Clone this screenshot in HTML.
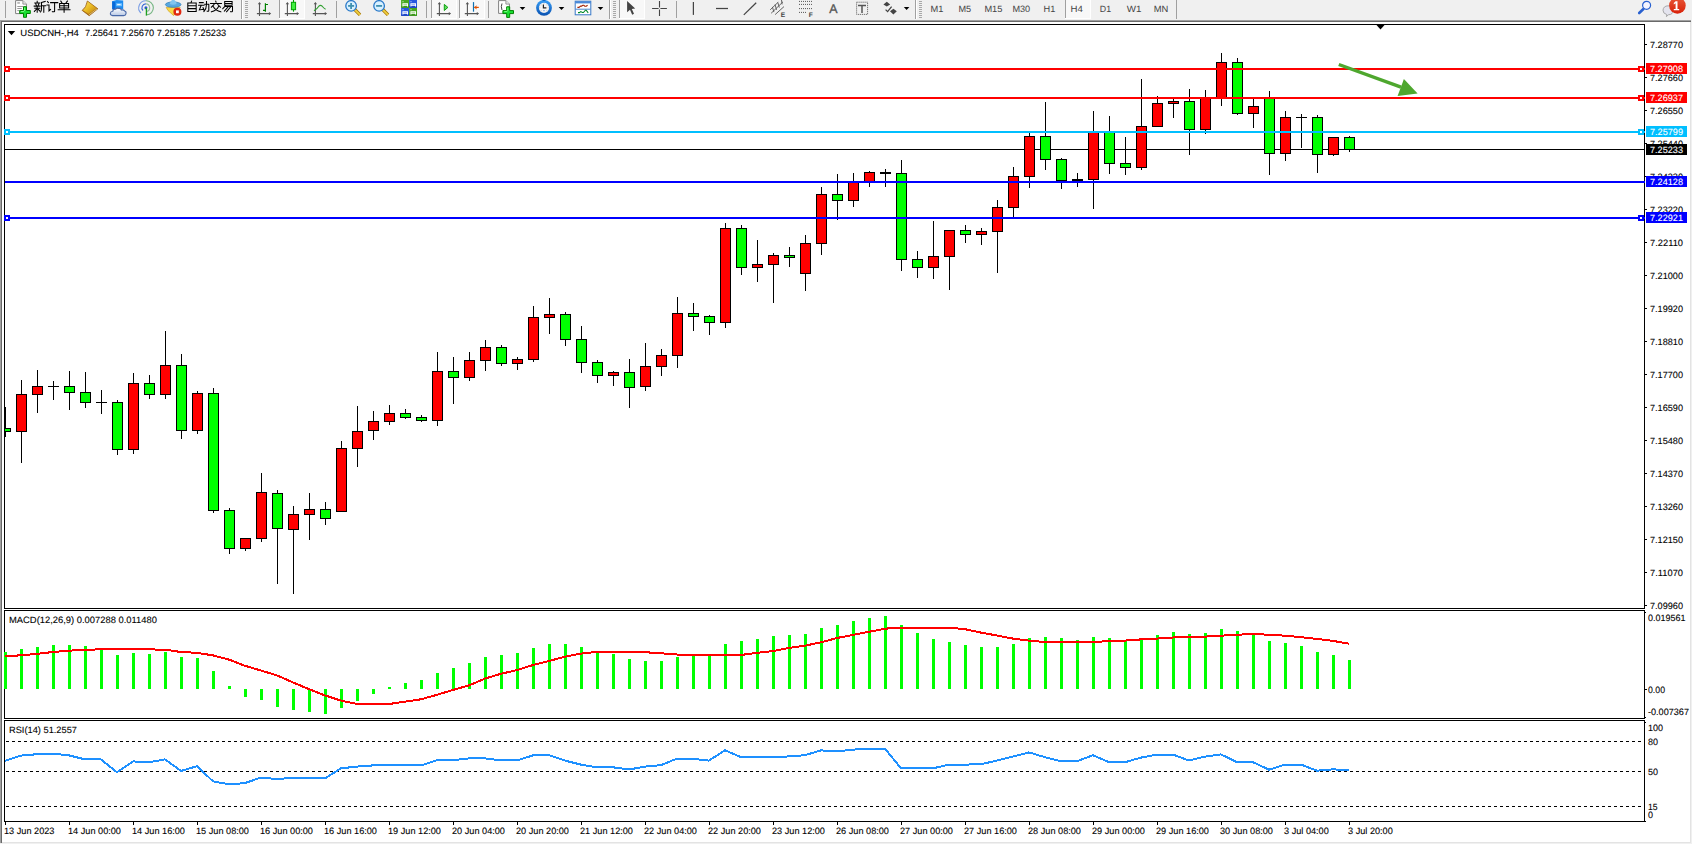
<!DOCTYPE html>
<html><head><meta charset="utf-8"><title>USDCNH H4</title>
<style>
html,body{margin:0;padding:0;background:#f0f0f0;overflow:hidden}
svg{display:block;font-family:"Liberation Sans",sans-serif}
</style></head><body>
<svg width="1692" height="844" viewBox="0 0 1692 844">
<defs><clipPath id="cm"><rect x="5" y="25" width="1639" height="583"/></clipPath></defs>
<g shape-rendering="crispEdges">
<rect x="0" y="0" width="1692" height="844" fill="#f0f0f0"/>
<rect x="0" y="20" width="1691" height="823" fill="#a0a0a0"/>
<rect x="1" y="21" width="1690" height="822" fill="#696969"/>
<rect x="2" y="22" width="1689" height="821" fill="#e3e3e3"/>
<rect x="2" y="22" width="1688" height="820" fill="#ffffff"/>
<rect x="4" y="24" width="1641" height="1" fill="#000"/>
<rect x="4" y="608" width="1641" height="1" fill="#000"/>
<rect x="4" y="24" width="1" height="585" fill="#000"/>
<rect x="1644" y="24" width="1" height="585" fill="#000"/>
<rect x="4" y="610" width="1641" height="1" fill="#000"/>
<rect x="4" y="718" width="1641" height="1" fill="#000"/>
<rect x="4" y="610" width="1" height="109" fill="#000"/>
<rect x="1644" y="610" width="1" height="109" fill="#000"/>
<rect x="4" y="720" width="1641" height="1" fill="#000"/>
<rect x="4" y="821" width="1641" height="1" fill="#000"/>
<rect x="4" y="720" width="1" height="102" fill="#000"/>
<rect x="1644" y="720" width="1" height="102" fill="#000"/>
<g clip-path="url(#cm)">
<rect x="5" y="149" width="1639" height="1" fill="#000"/>
<rect x="5" y="407" width="1" height="30" fill="#000"/>
<rect x="0" y="428" width="11" height="4" fill="#000"/>
<rect x="1" y="429" width="9" height="2" fill="#00ff00"/>
<rect x="21" y="380" width="1" height="83" fill="#000"/>
<rect x="16" y="394" width="11" height="38" fill="#000"/>
<rect x="17" y="395" width="9" height="36" fill="#ff0000"/>
<rect x="37" y="370" width="1" height="43" fill="#000"/>
<rect x="32" y="386" width="11" height="9" fill="#000"/>
<rect x="33" y="387" width="9" height="7" fill="#ff0000"/>
<rect x="53" y="381" width="1" height="19" fill="#000"/>
<rect x="48" y="386" width="11" height="1" fill="#000"/>
<rect x="69" y="371" width="1" height="39" fill="#000"/>
<rect x="64" y="386" width="11" height="7" fill="#000"/>
<rect x="65" y="387" width="9" height="5" fill="#00ff00"/>
<rect x="85" y="372" width="1" height="36" fill="#000"/>
<rect x="80" y="392" width="11" height="11" fill="#000"/>
<rect x="81" y="393" width="9" height="9" fill="#00ff00"/>
<rect x="101" y="390" width="1" height="24" fill="#000"/>
<rect x="96" y="402" width="11" height="1" fill="#000"/>
<rect x="117" y="400" width="1" height="55" fill="#000"/>
<rect x="112" y="402" width="11" height="48" fill="#000"/>
<rect x="113" y="403" width="9" height="46" fill="#00ff00"/>
<rect x="133" y="373" width="1" height="81" fill="#000"/>
<rect x="128" y="383" width="11" height="67" fill="#000"/>
<rect x="129" y="384" width="9" height="65" fill="#ff0000"/>
<rect x="149" y="375" width="1" height="24" fill="#000"/>
<rect x="144" y="383" width="11" height="12" fill="#000"/>
<rect x="145" y="384" width="9" height="10" fill="#00ff00"/>
<rect x="165" y="331" width="1" height="68" fill="#000"/>
<rect x="160" y="365" width="11" height="30" fill="#000"/>
<rect x="161" y="366" width="9" height="28" fill="#ff0000"/>
<rect x="181" y="354" width="1" height="85" fill="#000"/>
<rect x="176" y="365" width="11" height="66" fill="#000"/>
<rect x="177" y="366" width="9" height="64" fill="#00ff00"/>
<rect x="197" y="391" width="1" height="43" fill="#000"/>
<rect x="192" y="393" width="11" height="38" fill="#000"/>
<rect x="193" y="394" width="9" height="36" fill="#ff0000"/>
<rect x="213" y="388" width="1" height="125" fill="#000"/>
<rect x="208" y="393" width="11" height="118" fill="#000"/>
<rect x="209" y="394" width="9" height="116" fill="#00ff00"/>
<rect x="229" y="508" width="1" height="46" fill="#000"/>
<rect x="224" y="510" width="11" height="39" fill="#000"/>
<rect x="225" y="511" width="9" height="37" fill="#00ff00"/>
<rect x="245" y="539" width="1" height="12" fill="#000"/>
<rect x="240" y="538" width="11" height="11" fill="#000"/>
<rect x="241" y="539" width="9" height="9" fill="#ff0000"/>
<rect x="261" y="473" width="1" height="69" fill="#000"/>
<rect x="256" y="492" width="11" height="47" fill="#000"/>
<rect x="257" y="493" width="9" height="45" fill="#ff0000"/>
<rect x="277" y="490" width="1" height="94" fill="#000"/>
<rect x="272" y="493" width="11" height="36" fill="#000"/>
<rect x="273" y="494" width="9" height="34" fill="#00ff00"/>
<rect x="293" y="506" width="1" height="88" fill="#000"/>
<rect x="288" y="514" width="11" height="16" fill="#000"/>
<rect x="289" y="515" width="9" height="14" fill="#ff0000"/>
<rect x="309" y="493" width="1" height="47" fill="#000"/>
<rect x="304" y="509" width="11" height="6" fill="#000"/>
<rect x="305" y="510" width="9" height="4" fill="#ff0000"/>
<rect x="325" y="502" width="1" height="23" fill="#000"/>
<rect x="320" y="509" width="11" height="10" fill="#000"/>
<rect x="321" y="510" width="9" height="8" fill="#00ff00"/>
<rect x="341" y="441" width="1" height="71" fill="#000"/>
<rect x="336" y="448" width="11" height="64" fill="#000"/>
<rect x="337" y="449" width="9" height="62" fill="#ff0000"/>
<rect x="357" y="406" width="1" height="61" fill="#000"/>
<rect x="352" y="431" width="11" height="18" fill="#000"/>
<rect x="353" y="432" width="9" height="16" fill="#ff0000"/>
<rect x="373" y="411" width="1" height="29" fill="#000"/>
<rect x="368" y="421" width="11" height="10" fill="#000"/>
<rect x="369" y="422" width="9" height="8" fill="#ff0000"/>
<rect x="389" y="405" width="1" height="20" fill="#000"/>
<rect x="384" y="413" width="11" height="9" fill="#000"/>
<rect x="385" y="414" width="9" height="7" fill="#ff0000"/>
<rect x="405" y="409" width="1" height="10" fill="#000"/>
<rect x="400" y="413" width="11" height="5" fill="#000"/>
<rect x="401" y="414" width="9" height="3" fill="#00ff00"/>
<rect x="421" y="415" width="1" height="7" fill="#000"/>
<rect x="416" y="417" width="11" height="4" fill="#000"/>
<rect x="417" y="418" width="9" height="2" fill="#00ff00"/>
<rect x="437" y="352" width="1" height="74" fill="#000"/>
<rect x="432" y="371" width="11" height="50" fill="#000"/>
<rect x="433" y="372" width="9" height="48" fill="#ff0000"/>
<rect x="453" y="357" width="1" height="47" fill="#000"/>
<rect x="448" y="371" width="11" height="7" fill="#000"/>
<rect x="449" y="372" width="9" height="5" fill="#00ff00"/>
<rect x="469" y="352" width="1" height="29" fill="#000"/>
<rect x="464" y="360" width="11" height="18" fill="#000"/>
<rect x="465" y="361" width="9" height="16" fill="#ff0000"/>
<rect x="485" y="340" width="1" height="31" fill="#000"/>
<rect x="480" y="347" width="11" height="14" fill="#000"/>
<rect x="481" y="348" width="9" height="12" fill="#ff0000"/>
<rect x="501" y="345" width="1" height="21" fill="#000"/>
<rect x="496" y="347" width="11" height="17" fill="#000"/>
<rect x="497" y="348" width="9" height="15" fill="#00ff00"/>
<rect x="517" y="357" width="1" height="13" fill="#000"/>
<rect x="512" y="359" width="11" height="5" fill="#000"/>
<rect x="513" y="360" width="9" height="3" fill="#ff0000"/>
<rect x="533" y="306" width="1" height="56" fill="#000"/>
<rect x="528" y="317" width="11" height="43" fill="#000"/>
<rect x="529" y="318" width="9" height="41" fill="#ff0000"/>
<rect x="549" y="298" width="1" height="36" fill="#000"/>
<rect x="544" y="314" width="11" height="4" fill="#000"/>
<rect x="545" y="315" width="9" height="2" fill="#ff0000"/>
<rect x="565" y="312" width="1" height="34" fill="#000"/>
<rect x="560" y="314" width="11" height="26" fill="#000"/>
<rect x="561" y="315" width="9" height="24" fill="#00ff00"/>
<rect x="581" y="326" width="1" height="47" fill="#000"/>
<rect x="576" y="339" width="11" height="24" fill="#000"/>
<rect x="577" y="340" width="9" height="22" fill="#00ff00"/>
<rect x="597" y="360" width="1" height="23" fill="#000"/>
<rect x="592" y="362" width="11" height="14" fill="#000"/>
<rect x="593" y="363" width="9" height="12" fill="#00ff00"/>
<rect x="613" y="371" width="1" height="15" fill="#000"/>
<rect x="608" y="372" width="11" height="4" fill="#000"/>
<rect x="609" y="373" width="9" height="2" fill="#ff0000"/>
<rect x="629" y="359" width="1" height="49" fill="#000"/>
<rect x="624" y="372" width="11" height="16" fill="#000"/>
<rect x="625" y="373" width="9" height="14" fill="#00ff00"/>
<rect x="645" y="343" width="1" height="48" fill="#000"/>
<rect x="640" y="366" width="11" height="21" fill="#000"/>
<rect x="641" y="367" width="9" height="19" fill="#ff0000"/>
<rect x="661" y="349" width="1" height="27" fill="#000"/>
<rect x="656" y="355" width="11" height="12" fill="#000"/>
<rect x="657" y="356" width="9" height="10" fill="#ff0000"/>
<rect x="677" y="297" width="1" height="71" fill="#000"/>
<rect x="672" y="313" width="11" height="43" fill="#000"/>
<rect x="673" y="314" width="9" height="41" fill="#ff0000"/>
<rect x="693" y="303" width="1" height="28" fill="#000"/>
<rect x="688" y="313" width="11" height="4" fill="#000"/>
<rect x="689" y="314" width="9" height="2" fill="#00ff00"/>
<rect x="709" y="315" width="1" height="20" fill="#000"/>
<rect x="704" y="316" width="11" height="7" fill="#000"/>
<rect x="705" y="317" width="9" height="5" fill="#00ff00"/>
<rect x="725" y="223" width="1" height="105" fill="#000"/>
<rect x="720" y="228" width="11" height="95" fill="#000"/>
<rect x="721" y="229" width="9" height="93" fill="#ff0000"/>
<rect x="741" y="225" width="1" height="50" fill="#000"/>
<rect x="736" y="228" width="11" height="40" fill="#000"/>
<rect x="737" y="229" width="9" height="38" fill="#00ff00"/>
<rect x="757" y="240" width="1" height="42" fill="#000"/>
<rect x="752" y="264" width="11" height="4" fill="#000"/>
<rect x="753" y="265" width="9" height="2" fill="#ff0000"/>
<rect x="773" y="253" width="1" height="50" fill="#000"/>
<rect x="768" y="255" width="11" height="10" fill="#000"/>
<rect x="769" y="256" width="9" height="8" fill="#ff0000"/>
<rect x="789" y="247" width="1" height="20" fill="#000"/>
<rect x="784" y="255" width="11" height="3" fill="#000"/>
<rect x="785" y="256" width="9" height="1" fill="#00ff00"/>
<rect x="805" y="235" width="1" height="56" fill="#000"/>
<rect x="800" y="243" width="11" height="31" fill="#000"/>
<rect x="801" y="244" width="9" height="29" fill="#ff0000"/>
<rect x="821" y="187" width="1" height="68" fill="#000"/>
<rect x="816" y="194" width="11" height="50" fill="#000"/>
<rect x="817" y="195" width="9" height="48" fill="#ff0000"/>
<rect x="837" y="174" width="1" height="46" fill="#000"/>
<rect x="832" y="194" width="11" height="7" fill="#000"/>
<rect x="833" y="195" width="9" height="5" fill="#00ff00"/>
<rect x="853" y="173" width="1" height="34" fill="#000"/>
<rect x="848" y="182" width="11" height="19" fill="#000"/>
<rect x="849" y="183" width="9" height="17" fill="#ff0000"/>
<rect x="869" y="171" width="1" height="16" fill="#000"/>
<rect x="864" y="172" width="11" height="11" fill="#000"/>
<rect x="865" y="173" width="9" height="9" fill="#ff0000"/>
<rect x="885" y="169" width="1" height="18" fill="#000"/>
<rect x="880" y="172" width="11" height="2" fill="#000"/>
<rect x="901" y="160" width="1" height="111" fill="#000"/>
<rect x="896" y="173" width="11" height="87" fill="#000"/>
<rect x="897" y="174" width="9" height="85" fill="#00ff00"/>
<rect x="917" y="251" width="1" height="27" fill="#000"/>
<rect x="912" y="259" width="11" height="9" fill="#000"/>
<rect x="913" y="260" width="9" height="7" fill="#00ff00"/>
<rect x="933" y="221" width="1" height="58" fill="#000"/>
<rect x="928" y="256" width="11" height="12" fill="#000"/>
<rect x="929" y="257" width="9" height="10" fill="#ff0000"/>
<rect x="949" y="230" width="1" height="60" fill="#000"/>
<rect x="944" y="230" width="11" height="27" fill="#000"/>
<rect x="945" y="231" width="9" height="25" fill="#ff0000"/>
<rect x="965" y="225" width="1" height="18" fill="#000"/>
<rect x="960" y="230" width="11" height="5" fill="#000"/>
<rect x="961" y="231" width="9" height="3" fill="#00ff00"/>
<rect x="981" y="228" width="1" height="17" fill="#000"/>
<rect x="976" y="231" width="11" height="4" fill="#000"/>
<rect x="977" y="232" width="9" height="2" fill="#ff0000"/>
<rect x="997" y="200" width="1" height="73" fill="#000"/>
<rect x="992" y="207" width="11" height="25" fill="#000"/>
<rect x="993" y="208" width="9" height="23" fill="#ff0000"/>
<rect x="1013" y="167" width="1" height="50" fill="#000"/>
<rect x="1008" y="176" width="11" height="32" fill="#000"/>
<rect x="1009" y="177" width="9" height="30" fill="#ff0000"/>
<rect x="1029" y="133" width="1" height="55" fill="#000"/>
<rect x="1024" y="136" width="11" height="41" fill="#000"/>
<rect x="1025" y="137" width="9" height="39" fill="#ff0000"/>
<rect x="1045" y="102" width="1" height="68" fill="#000"/>
<rect x="1040" y="136" width="11" height="24" fill="#000"/>
<rect x="1041" y="137" width="9" height="22" fill="#00ff00"/>
<rect x="1061" y="158" width="1" height="31" fill="#000"/>
<rect x="1056" y="159" width="11" height="22" fill="#000"/>
<rect x="1057" y="160" width="9" height="20" fill="#00ff00"/>
<rect x="1077" y="173" width="1" height="14" fill="#000"/>
<rect x="1072" y="179" width="11" height="2" fill="#000"/>
<rect x="1093" y="111" width="1" height="98" fill="#000"/>
<rect x="1088" y="132" width="11" height="48" fill="#000"/>
<rect x="1089" y="133" width="9" height="46" fill="#ff0000"/>
<rect x="1109" y="116" width="1" height="58" fill="#000"/>
<rect x="1104" y="132" width="11" height="32" fill="#000"/>
<rect x="1105" y="133" width="9" height="30" fill="#00ff00"/>
<rect x="1125" y="137" width="1" height="38" fill="#000"/>
<rect x="1120" y="163" width="11" height="5" fill="#000"/>
<rect x="1121" y="164" width="9" height="3" fill="#00ff00"/>
<rect x="1141" y="79" width="1" height="91" fill="#000"/>
<rect x="1136" y="126" width="11" height="42" fill="#000"/>
<rect x="1137" y="127" width="9" height="40" fill="#ff0000"/>
<rect x="1157" y="96" width="1" height="31" fill="#000"/>
<rect x="1152" y="103" width="11" height="24" fill="#000"/>
<rect x="1153" y="104" width="9" height="22" fill="#ff0000"/>
<rect x="1173" y="99" width="1" height="19" fill="#000"/>
<rect x="1168" y="101" width="11" height="3" fill="#000"/>
<rect x="1169" y="102" width="9" height="1" fill="#ff0000"/>
<rect x="1189" y="89" width="1" height="66" fill="#000"/>
<rect x="1184" y="101" width="11" height="29" fill="#000"/>
<rect x="1185" y="102" width="9" height="27" fill="#00ff00"/>
<rect x="1205" y="90" width="1" height="44" fill="#000"/>
<rect x="1200" y="97" width="11" height="33" fill="#000"/>
<rect x="1201" y="98" width="9" height="31" fill="#ff0000"/>
<rect x="1221" y="53" width="1" height="53" fill="#000"/>
<rect x="1216" y="62" width="11" height="36" fill="#000"/>
<rect x="1217" y="63" width="9" height="34" fill="#ff0000"/>
<rect x="1237" y="58" width="1" height="57" fill="#000"/>
<rect x="1232" y="62" width="11" height="52" fill="#000"/>
<rect x="1233" y="63" width="9" height="50" fill="#00ff00"/>
<rect x="1253" y="99" width="1" height="29" fill="#000"/>
<rect x="1248" y="106" width="11" height="8" fill="#000"/>
<rect x="1249" y="107" width="9" height="6" fill="#ff0000"/>
<rect x="1269" y="91" width="1" height="84" fill="#000"/>
<rect x="1264" y="97" width="11" height="57" fill="#000"/>
<rect x="1265" y="98" width="9" height="55" fill="#00ff00"/>
<rect x="1285" y="111" width="1" height="50" fill="#000"/>
<rect x="1280" y="117" width="11" height="37" fill="#000"/>
<rect x="1281" y="118" width="9" height="35" fill="#ff0000"/>
<rect x="1301" y="114" width="1" height="34" fill="#000"/>
<rect x="1296" y="117" width="11" height="1" fill="#000"/>
<rect x="1317" y="115" width="1" height="58" fill="#000"/>
<rect x="1312" y="117" width="11" height="38" fill="#000"/>
<rect x="1313" y="118" width="9" height="36" fill="#00ff00"/>
<rect x="1333" y="137" width="1" height="19" fill="#000"/>
<rect x="1328" y="137" width="11" height="18" fill="#000"/>
<rect x="1329" y="138" width="9" height="16" fill="#ff0000"/>
<rect x="1349" y="136" width="1" height="16" fill="#000"/>
<rect x="1344" y="137" width="11" height="13" fill="#000"/>
<rect x="1345" y="138" width="9" height="11" fill="#00ff00"/>
</g>
<rect x="1645" y="44" width="2" height="1" fill="#000"/>
<text text-rendering="geometricPrecision" x="1650" y="47.6" fill="#000" stroke="#000" stroke-width="0.1" font-size="9.17" text-anchor="start" textLength="33" lengthAdjust="spacingAndGlyphs">7.28770</text>
<rect x="1645" y="77" width="2" height="1" fill="#000"/>
<text text-rendering="geometricPrecision" x="1650" y="80.6" fill="#000" stroke="#000" stroke-width="0.1" font-size="9.17" text-anchor="start" textLength="33" lengthAdjust="spacingAndGlyphs">7.27660</text>
<rect x="1645" y="110" width="2" height="1" fill="#000"/>
<text text-rendering="geometricPrecision" x="1650" y="113.6" fill="#000" stroke="#000" stroke-width="0.1" font-size="9.17" text-anchor="start" textLength="33" lengthAdjust="spacingAndGlyphs">7.26550</text>
<rect x="1645" y="143" width="2" height="1" fill="#000"/>
<text text-rendering="geometricPrecision" x="1650" y="146.6" fill="#000" stroke="#000" stroke-width="0.1" font-size="9.17" text-anchor="start" textLength="33" lengthAdjust="spacingAndGlyphs">7.25440</text>
<rect x="1645" y="176" width="2" height="1" fill="#000"/>
<text text-rendering="geometricPrecision" x="1650" y="179.6" fill="#000" stroke="#000" stroke-width="0.1" font-size="9.17" text-anchor="start" textLength="33" lengthAdjust="spacingAndGlyphs">7.24330</text>
<rect x="1645" y="209" width="2" height="1" fill="#000"/>
<text text-rendering="geometricPrecision" x="1650" y="212.6" fill="#000" stroke="#000" stroke-width="0.1" font-size="9.17" text-anchor="start" textLength="33" lengthAdjust="spacingAndGlyphs">7.23220</text>
<rect x="1645" y="242" width="2" height="1" fill="#000"/>
<text text-rendering="geometricPrecision" x="1650" y="245.6" fill="#000" stroke="#000" stroke-width="0.1" font-size="9.17" text-anchor="start" textLength="33" lengthAdjust="spacingAndGlyphs">7.22110</text>
<rect x="1645" y="275" width="2" height="1" fill="#000"/>
<text text-rendering="geometricPrecision" x="1650" y="278.6" fill="#000" stroke="#000" stroke-width="0.1" font-size="9.17" text-anchor="start" textLength="33" lengthAdjust="spacingAndGlyphs">7.21000</text>
<rect x="1645" y="308" width="2" height="1" fill="#000"/>
<text text-rendering="geometricPrecision" x="1650" y="311.6" fill="#000" stroke="#000" stroke-width="0.1" font-size="9.17" text-anchor="start" textLength="33" lengthAdjust="spacingAndGlyphs">7.19920</text>
<rect x="1645" y="341" width="2" height="1" fill="#000"/>
<text text-rendering="geometricPrecision" x="1650" y="344.6" fill="#000" stroke="#000" stroke-width="0.1" font-size="9.17" text-anchor="start" textLength="33" lengthAdjust="spacingAndGlyphs">7.18810</text>
<rect x="1645" y="374" width="2" height="1" fill="#000"/>
<text text-rendering="geometricPrecision" x="1650" y="377.6" fill="#000" stroke="#000" stroke-width="0.1" font-size="9.17" text-anchor="start" textLength="33" lengthAdjust="spacingAndGlyphs">7.17700</text>
<rect x="1645" y="407" width="2" height="1" fill="#000"/>
<text text-rendering="geometricPrecision" x="1650" y="410.6" fill="#000" stroke="#000" stroke-width="0.1" font-size="9.17" text-anchor="start" textLength="33" lengthAdjust="spacingAndGlyphs">7.16590</text>
<rect x="1645" y="440" width="2" height="1" fill="#000"/>
<text text-rendering="geometricPrecision" x="1650" y="443.6" fill="#000" stroke="#000" stroke-width="0.1" font-size="9.17" text-anchor="start" textLength="33" lengthAdjust="spacingAndGlyphs">7.15480</text>
<rect x="1645" y="473" width="2" height="1" fill="#000"/>
<text text-rendering="geometricPrecision" x="1650" y="476.6" fill="#000" stroke="#000" stroke-width="0.1" font-size="9.17" text-anchor="start" textLength="33" lengthAdjust="spacingAndGlyphs">7.14370</text>
<rect x="1645" y="506" width="2" height="1" fill="#000"/>
<text text-rendering="geometricPrecision" x="1650" y="509.6" fill="#000" stroke="#000" stroke-width="0.1" font-size="9.17" text-anchor="start" textLength="33" lengthAdjust="spacingAndGlyphs">7.13260</text>
<rect x="1645" y="539" width="2" height="1" fill="#000"/>
<text text-rendering="geometricPrecision" x="1650" y="542.6" fill="#000" stroke="#000" stroke-width="0.1" font-size="9.17" text-anchor="start" textLength="33" lengthAdjust="spacingAndGlyphs">7.12150</text>
<rect x="1645" y="572" width="2" height="1" fill="#000"/>
<text text-rendering="geometricPrecision" x="1650" y="575.6" fill="#000" stroke="#000" stroke-width="0.1" font-size="9.17" text-anchor="start" textLength="33" lengthAdjust="spacingAndGlyphs">7.11070</text>
<rect x="1645" y="605" width="2" height="1" fill="#000"/>
<text text-rendering="geometricPrecision" x="1650" y="608.6" fill="#000" stroke="#000" stroke-width="0.1" font-size="9.17" text-anchor="start" textLength="33" lengthAdjust="spacingAndGlyphs">7.09960</text>
<rect x="5" y="68" width="1640" height="2" fill="#ff0000"/>
<rect x="4" y="66" width="6" height="6" fill="#ff0000"/>
<rect x="6" y="68" width="2" height="2" fill="#fff"/>
<rect x="1638" y="66" width="6" height="6" fill="#ff0000"/>
<rect x="1640" y="68" width="2" height="2" fill="#fff"/>
<rect x="1646" y="63" width="41" height="11" fill="#ff0000"/>
<text text-rendering="geometricPrecision" x="1650" y="71.9" fill="#fff" stroke="#fff" stroke-width="0.1" font-size="9.17" text-anchor="start" textLength="33" lengthAdjust="spacingAndGlyphs">7.27908</text>
<rect x="5" y="97" width="1640" height="2" fill="#ff0000"/>
<rect x="4" y="95" width="6" height="6" fill="#ff0000"/>
<rect x="6" y="97" width="2" height="2" fill="#fff"/>
<rect x="1638" y="95" width="6" height="6" fill="#ff0000"/>
<rect x="1640" y="97" width="2" height="2" fill="#fff"/>
<rect x="1646" y="92" width="41" height="11" fill="#ff0000"/>
<text text-rendering="geometricPrecision" x="1650" y="100.9" fill="#fff" stroke="#fff" stroke-width="0.1" font-size="9.17" text-anchor="start" textLength="33" lengthAdjust="spacingAndGlyphs">7.26937</text>
<rect x="5" y="131" width="1640" height="2" fill="#00bfff"/>
<rect x="4" y="129" width="6" height="6" fill="#00bfff"/>
<rect x="6" y="131" width="2" height="2" fill="#fff"/>
<rect x="1638" y="129" width="6" height="6" fill="#00bfff"/>
<rect x="1640" y="131" width="2" height="2" fill="#fff"/>
<rect x="1646" y="126" width="41" height="11" fill="#00bfff"/>
<text text-rendering="geometricPrecision" x="1650" y="134.9" fill="#fff" stroke="#fff" stroke-width="0.1" font-size="9.17" text-anchor="start" textLength="33" lengthAdjust="spacingAndGlyphs">7.25799</text>
<rect x="5" y="181" width="1640" height="2" fill="#0000ff"/>
<rect x="1646" y="176" width="41" height="11" fill="#0000ff"/>
<text text-rendering="geometricPrecision" x="1650" y="184.9" fill="#fff" stroke="#fff" stroke-width="0.1" font-size="9.17" text-anchor="start" textLength="33" lengthAdjust="spacingAndGlyphs">7.24128</text>
<rect x="5" y="217" width="1640" height="2" fill="#0000ff"/>
<rect x="4" y="215" width="6" height="6" fill="#0000ff"/>
<rect x="6" y="217" width="2" height="2" fill="#fff"/>
<rect x="1638" y="215" width="6" height="6" fill="#0000ff"/>
<rect x="1640" y="217" width="2" height="2" fill="#fff"/>
<rect x="1646" y="212" width="41" height="11" fill="#0000ff"/>
<text text-rendering="geometricPrecision" x="1650" y="220.9" fill="#fff" stroke="#fff" stroke-width="0.1" font-size="9.17" text-anchor="start" textLength="33" lengthAdjust="spacingAndGlyphs">7.22921</text>
<rect x="1646" y="144" width="41" height="11" fill="#000"/>
<text text-rendering="geometricPrecision" x="1650" y="152.9" fill="#fff" stroke="#fff" stroke-width="0.1" font-size="9.17" text-anchor="start" textLength="33" lengthAdjust="spacingAndGlyphs">7.25233</text>
<path shape-rendering="geometricPrecision" d="M1376.5 25 L1384.5 25 L1380.5 29.5 Z" fill="#000"/>
<g fill="#4ea72e" stroke="none"><path shape-rendering="geometricPrecision" d="M1338.2 65.9 L1339.4 62.9 L1401.6 85.6 L1400.4 88.8 Z"/><path shape-rendering="geometricPrecision" d="M1403.9 79.0 L1417.6 93.4 L1397.6 95.9 Z"/></g>
<path shape-rendering="geometricPrecision" d="M7.8 31 L15.2 31 L11.5 35.2 Z" fill="#000"/>
<text text-rendering="geometricPrecision" x="20.3" y="36" fill="#000" stroke="#000" stroke-width="0.1" font-size="9.17" text-anchor="start" textLength="58.6" lengthAdjust="spacingAndGlyphs">USDCNH-,H4</text>
<text text-rendering="geometricPrecision" x="84.9" y="36" fill="#000" stroke="#000" stroke-width="0.1" font-size="9.17" text-anchor="start" textLength="141.3" lengthAdjust="spacingAndGlyphs">7.25641 7.25670 7.25185 7.25233</text>
<rect x="4" y="652" width="3" height="37" fill="#00ff00"/>
<rect x="20" y="649" width="3" height="40" fill="#00ff00"/>
<rect x="36" y="647" width="3" height="42" fill="#00ff00"/>
<rect x="52" y="645" width="3" height="44" fill="#00ff00"/>
<rect x="68" y="645" width="3" height="44" fill="#00ff00"/>
<rect x="84" y="646" width="3" height="43" fill="#00ff00"/>
<rect x="100" y="649" width="3" height="40" fill="#00ff00"/>
<rect x="116" y="655" width="3" height="34" fill="#00ff00"/>
<rect x="132" y="653" width="3" height="36" fill="#00ff00"/>
<rect x="148" y="654" width="3" height="35" fill="#00ff00"/>
<rect x="164" y="652" width="3" height="37" fill="#00ff00"/>
<rect x="180" y="657" width="3" height="32" fill="#00ff00"/>
<rect x="196" y="658" width="3" height="31" fill="#00ff00"/>
<rect x="212" y="671" width="3" height="18" fill="#00ff00"/>
<rect x="228" y="686" width="3" height="3" fill="#00ff00"/>
<rect x="244" y="689" width="3" height="8" fill="#00ff00"/>
<rect x="260" y="689" width="3" height="11" fill="#00ff00"/>
<rect x="276" y="689" width="3" height="18" fill="#00ff00"/>
<rect x="292" y="689" width="3" height="21" fill="#00ff00"/>
<rect x="308" y="689" width="3" height="23" fill="#00ff00"/>
<rect x="324" y="689" width="3" height="25" fill="#00ff00"/>
<rect x="340" y="689" width="3" height="19" fill="#00ff00"/>
<rect x="356" y="689" width="3" height="12" fill="#00ff00"/>
<rect x="372" y="689" width="3" height="5" fill="#00ff00"/>
<rect x="388" y="687" width="3" height="2" fill="#00ff00"/>
<rect x="404" y="683" width="3" height="6" fill="#00ff00"/>
<rect x="420" y="680" width="3" height="9" fill="#00ff00"/>
<rect x="436" y="673" width="3" height="16" fill="#00ff00"/>
<rect x="452" y="668" width="3" height="21" fill="#00ff00"/>
<rect x="468" y="663" width="3" height="26" fill="#00ff00"/>
<rect x="484" y="657" width="3" height="32" fill="#00ff00"/>
<rect x="500" y="655" width="3" height="34" fill="#00ff00"/>
<rect x="516" y="653" width="3" height="36" fill="#00ff00"/>
<rect x="532" y="648" width="3" height="41" fill="#00ff00"/>
<rect x="548" y="644" width="3" height="45" fill="#00ff00"/>
<rect x="564" y="644" width="3" height="45" fill="#00ff00"/>
<rect x="580" y="647" width="3" height="42" fill="#00ff00"/>
<rect x="596" y="652" width="3" height="37" fill="#00ff00"/>
<rect x="612" y="654" width="3" height="35" fill="#00ff00"/>
<rect x="628" y="659" width="3" height="30" fill="#00ff00"/>
<rect x="644" y="661" width="3" height="28" fill="#00ff00"/>
<rect x="660" y="661" width="3" height="28" fill="#00ff00"/>
<rect x="676" y="657" width="3" height="32" fill="#00ff00"/>
<rect x="692" y="655" width="3" height="34" fill="#00ff00"/>
<rect x="708" y="655" width="3" height="34" fill="#00ff00"/>
<rect x="724" y="644" width="3" height="45" fill="#00ff00"/>
<rect x="740" y="641" width="3" height="48" fill="#00ff00"/>
<rect x="756" y="639" width="3" height="50" fill="#00ff00"/>
<rect x="772" y="636" width="3" height="53" fill="#00ff00"/>
<rect x="788" y="635" width="3" height="54" fill="#00ff00"/>
<rect x="804" y="634" width="3" height="55" fill="#00ff00"/>
<rect x="820" y="628" width="3" height="61" fill="#00ff00"/>
<rect x="836" y="625" width="3" height="64" fill="#00ff00"/>
<rect x="852" y="621" width="3" height="68" fill="#00ff00"/>
<rect x="868" y="618" width="3" height="71" fill="#00ff00"/>
<rect x="884" y="616" width="3" height="73" fill="#00ff00"/>
<rect x="900" y="625" width="3" height="64" fill="#00ff00"/>
<rect x="916" y="633" width="3" height="56" fill="#00ff00"/>
<rect x="932" y="639" width="3" height="50" fill="#00ff00"/>
<rect x="948" y="642" width="3" height="47" fill="#00ff00"/>
<rect x="964" y="645" width="3" height="44" fill="#00ff00"/>
<rect x="980" y="647" width="3" height="42" fill="#00ff00"/>
<rect x="996" y="647" width="3" height="42" fill="#00ff00"/>
<rect x="1012" y="644" width="3" height="45" fill="#00ff00"/>
<rect x="1028" y="638" width="3" height="51" fill="#00ff00"/>
<rect x="1044" y="637" width="3" height="52" fill="#00ff00"/>
<rect x="1060" y="638" width="3" height="51" fill="#00ff00"/>
<rect x="1076" y="640" width="3" height="49" fill="#00ff00"/>
<rect x="1092" y="637" width="3" height="52" fill="#00ff00"/>
<rect x="1108" y="638" width="3" height="51" fill="#00ff00"/>
<rect x="1124" y="641" width="3" height="48" fill="#00ff00"/>
<rect x="1140" y="640" width="3" height="49" fill="#00ff00"/>
<rect x="1156" y="635" width="3" height="54" fill="#00ff00"/>
<rect x="1172" y="632" width="3" height="57" fill="#00ff00"/>
<rect x="1188" y="634" width="3" height="55" fill="#00ff00"/>
<rect x="1204" y="633" width="3" height="56" fill="#00ff00"/>
<rect x="1220" y="629" width="3" height="60" fill="#00ff00"/>
<rect x="1236" y="631" width="3" height="58" fill="#00ff00"/>
<rect x="1252" y="635" width="3" height="54" fill="#00ff00"/>
<rect x="1268" y="641" width="3" height="48" fill="#00ff00"/>
<rect x="1284" y="643" width="3" height="46" fill="#00ff00"/>
<rect x="1300" y="646" width="3" height="43" fill="#00ff00"/>
<rect x="1316" y="652" width="3" height="37" fill="#00ff00"/>
<rect x="1332" y="655" width="3" height="34" fill="#00ff00"/>
<rect x="1348" y="660" width="3" height="29" fill="#00ff00"/>
<polyline shape-rendering="crispEdges" points="5,655.9 21,655.4 37,653.8 53,652.0 69,650.7 85,649.7 101,649.4 117,649.4 133,649.4 149,649.4 165,649.7 181,652.0 197,652.8 213,655.4 229,659.6 245,665.8 261,670.5 277,675.4 293,682.4 309,689.2 325,695.4 341,700.6 357,704.0 373,704.3 389,704.0 405,701.7 421,699.3 437,694.8 453,689.9 469,685.4 485,678.6 501,673.8 517,670.1 533,665.0 549,661.0 565,656.7 581,653.6 597,651.9 613,651.6 629,651.6 645,652.2 661,653.3 677,654.5 693,655.3 709,655.3 725,655.3 741,655.0 757,652.8 773,651.1 789,647.9 805,645.7 821,642.3 837,638.0 853,634.9 869,631.8 885,628.7 901,627.5 917,627.5 933,627.5 949,627.5 965,629.2 981,632.6 997,635.5 1013,638.6 1029,640.6 1045,642.0 1061,642.3 1077,642.3 1093,642.0 1109,641.1 1125,640.6 1141,639.4 1157,638.6 1173,637.5 1189,637.2 1205,636.6 1221,635.7 1237,634.6 1253,634.3 1269,634.6 1285,635.7 1301,637.2 1317,638.9 1333,640.9 1349,643.7" fill="none" stroke="#ff0000" stroke-width="2" stroke-linejoin="round"/>
<text text-rendering="geometricPrecision" x="9" y="622.5" fill="#000" stroke="#000" stroke-width="0.1" font-size="9.17" text-anchor="start" textLength="148" lengthAdjust="spacingAndGlyphs">MACD(12,26,9) 0.007288 0.011480</text>
<rect x="1645" y="612" width="1" height="1" fill="#000"/>
<rect x="1645" y="717" width="1" height="1" fill="#000"/>
<rect x="1645" y="689" width="2" height="1" fill="#000"/>
<text text-rendering="geometricPrecision" x="1648" y="621" fill="#000" stroke="#000" stroke-width="0.1" font-size="9.17" text-anchor="start" textLength="37.5" lengthAdjust="spacingAndGlyphs">0.019561</text>
<text text-rendering="geometricPrecision" x="1648" y="693" fill="#000" stroke="#000" stroke-width="0.1" font-size="9.17" text-anchor="start" textLength="17" lengthAdjust="spacingAndGlyphs">0.00</text>
<text text-rendering="geometricPrecision" x="1648" y="715" fill="#000" stroke="#000" stroke-width="0.1" font-size="9.17" text-anchor="start" textLength="41" lengthAdjust="spacingAndGlyphs">-0.007367</text>
<line x1="6" y1="741.5" x2="1644" y2="741.5" stroke="#000" stroke-width="1" stroke-dasharray="3 3" shape-rendering="crispEdges"/>
<line x1="6" y1="771.5" x2="1644" y2="771.5" stroke="#000" stroke-width="1" stroke-dasharray="3 3" shape-rendering="crispEdges"/>
<line x1="6" y1="806.5" x2="1644" y2="806.5" stroke="#000" stroke-width="1" stroke-dasharray="3 3" shape-rendering="crispEdges"/>
<polyline shape-rendering="crispEdges" points="5,760.8 21,755.6 37,754.2 53,753.6 69,755.4 85,759.4 101,759.4 117,772.3 133,761.4 149,762.2 165,759.4 181,770.9 197,766.2 213,781.3 229,784.3 245,783.1 261,777.5 277,779.1 293,777.7 309,778.3 325,778.3 341,768.3 357,766.6 373,765.4 389,765.4 405,765.4 421,765.4 437,760.2 453,760.2 469,758.4 485,758.4 501,760.4 517,760.4 533,755.4 549,755.2 565,760.6 581,764.6 597,767.3 613,767.3 629,769.5 645,766.6 661,765.1 677,758.6 693,758.8 709,760.6 725,750.2 741,757.2 757,757.2 773,757.2 789,756.4 805,755.2 821,750.4 837,751.4 853,749.6 869,748.8 885,748.6 901,768.3 917,768.3 933,768.3 949,764.6 965,764.6 981,764.2 997,760.6 1013,756.5 1029,752.4 1045,757.2 1061,761.2 1077,761.2 1093,755.2 1109,762.2 1125,762.2 1141,757.6 1157,754.6 1173,754.6 1189,760.6 1205,756.6 1221,754.4 1237,762.2 1253,762.2 1269,769.7 1285,764.6 1301,764.6 1317,770.7 1333,769.3 1349,770.5" fill="none" stroke="#1e90ff" stroke-width="2" stroke-linejoin="round"/>
<text text-rendering="geometricPrecision" x="9" y="732.5" fill="#000" stroke="#000" stroke-width="0.1" font-size="9.17" text-anchor="start" textLength="68" lengthAdjust="spacingAndGlyphs">RSI(14) 51.2557</text>
<rect x="1645" y="722" width="1" height="1" fill="#000"/>
<rect x="1645" y="821" width="1" height="1" fill="#000"/>
<text text-rendering="geometricPrecision" x="1648" y="731" fill="#000" stroke="#000" stroke-width="0.1" font-size="9.17" text-anchor="start" textLength="15" lengthAdjust="spacingAndGlyphs">100</text>
<text text-rendering="geometricPrecision" x="1648" y="745" fill="#000" stroke="#000" stroke-width="0.1" font-size="9.17" text-anchor="start" textLength="10" lengthAdjust="spacingAndGlyphs">80</text>
<text text-rendering="geometricPrecision" x="1648" y="775" fill="#000" stroke="#000" stroke-width="0.1" font-size="9.17" text-anchor="start" textLength="10" lengthAdjust="spacingAndGlyphs">50</text>
<text text-rendering="geometricPrecision" x="1648" y="810" fill="#000" stroke="#000" stroke-width="0.1" font-size="9.17" text-anchor="start" textLength="9.6" lengthAdjust="spacingAndGlyphs">15</text>
<text text-rendering="geometricPrecision" x="1648" y="818" fill="#000" stroke="#000" stroke-width="0.1" font-size="9.17" text-anchor="start" textLength="5" lengthAdjust="spacingAndGlyphs">0</text>
<rect x="5" y="822" width="1" height="3" fill="#000"/>
<text text-rendering="geometricPrecision" x="4" y="833.7" fill="#000" stroke="#000" stroke-width="0.1" font-size="9.17" text-anchor="start">13 Jun 2023</text>
<rect x="69" y="822" width="1" height="3" fill="#000"/>
<text text-rendering="geometricPrecision" x="68" y="833.7" fill="#000" stroke="#000" stroke-width="0.1" font-size="9.17" text-anchor="start">14 Jun 00:00</text>
<rect x="133" y="822" width="1" height="3" fill="#000"/>
<text text-rendering="geometricPrecision" x="132" y="833.7" fill="#000" stroke="#000" stroke-width="0.1" font-size="9.17" text-anchor="start">14 Jun 16:00</text>
<rect x="197" y="822" width="1" height="3" fill="#000"/>
<text text-rendering="geometricPrecision" x="196" y="833.7" fill="#000" stroke="#000" stroke-width="0.1" font-size="9.17" text-anchor="start">15 Jun 08:00</text>
<rect x="261" y="822" width="1" height="3" fill="#000"/>
<text text-rendering="geometricPrecision" x="260" y="833.7" fill="#000" stroke="#000" stroke-width="0.1" font-size="9.17" text-anchor="start">16 Jun 00:00</text>
<rect x="325" y="822" width="1" height="3" fill="#000"/>
<text text-rendering="geometricPrecision" x="324" y="833.7" fill="#000" stroke="#000" stroke-width="0.1" font-size="9.17" text-anchor="start">16 Jun 16:00</text>
<rect x="389" y="822" width="1" height="3" fill="#000"/>
<text text-rendering="geometricPrecision" x="388" y="833.7" fill="#000" stroke="#000" stroke-width="0.1" font-size="9.17" text-anchor="start">19 Jun 12:00</text>
<rect x="453" y="822" width="1" height="3" fill="#000"/>
<text text-rendering="geometricPrecision" x="452" y="833.7" fill="#000" stroke="#000" stroke-width="0.1" font-size="9.17" text-anchor="start">20 Jun 04:00</text>
<rect x="517" y="822" width="1" height="3" fill="#000"/>
<text text-rendering="geometricPrecision" x="516" y="833.7" fill="#000" stroke="#000" stroke-width="0.1" font-size="9.17" text-anchor="start">20 Jun 20:00</text>
<rect x="581" y="822" width="1" height="3" fill="#000"/>
<text text-rendering="geometricPrecision" x="580" y="833.7" fill="#000" stroke="#000" stroke-width="0.1" font-size="9.17" text-anchor="start">21 Jun 12:00</text>
<rect x="645" y="822" width="1" height="3" fill="#000"/>
<text text-rendering="geometricPrecision" x="644" y="833.7" fill="#000" stroke="#000" stroke-width="0.1" font-size="9.17" text-anchor="start">22 Jun 04:00</text>
<rect x="709" y="822" width="1" height="3" fill="#000"/>
<text text-rendering="geometricPrecision" x="708" y="833.7" fill="#000" stroke="#000" stroke-width="0.1" font-size="9.17" text-anchor="start">22 Jun 20:00</text>
<rect x="773" y="822" width="1" height="3" fill="#000"/>
<text text-rendering="geometricPrecision" x="772" y="833.7" fill="#000" stroke="#000" stroke-width="0.1" font-size="9.17" text-anchor="start">23 Jun 12:00</text>
<rect x="837" y="822" width="1" height="3" fill="#000"/>
<text text-rendering="geometricPrecision" x="836" y="833.7" fill="#000" stroke="#000" stroke-width="0.1" font-size="9.17" text-anchor="start">26 Jun 08:00</text>
<rect x="901" y="822" width="1" height="3" fill="#000"/>
<text text-rendering="geometricPrecision" x="900" y="833.7" fill="#000" stroke="#000" stroke-width="0.1" font-size="9.17" text-anchor="start">27 Jun 00:00</text>
<rect x="965" y="822" width="1" height="3" fill="#000"/>
<text text-rendering="geometricPrecision" x="964" y="833.7" fill="#000" stroke="#000" stroke-width="0.1" font-size="9.17" text-anchor="start">27 Jun 16:00</text>
<rect x="1029" y="822" width="1" height="3" fill="#000"/>
<text text-rendering="geometricPrecision" x="1028" y="833.7" fill="#000" stroke="#000" stroke-width="0.1" font-size="9.17" text-anchor="start">28 Jun 08:00</text>
<rect x="1093" y="822" width="1" height="3" fill="#000"/>
<text text-rendering="geometricPrecision" x="1092" y="833.7" fill="#000" stroke="#000" stroke-width="0.1" font-size="9.17" text-anchor="start">29 Jun 00:00</text>
<rect x="1157" y="822" width="1" height="3" fill="#000"/>
<text text-rendering="geometricPrecision" x="1156" y="833.7" fill="#000" stroke="#000" stroke-width="0.1" font-size="9.17" text-anchor="start">29 Jun 16:00</text>
<rect x="1221" y="822" width="1" height="3" fill="#000"/>
<text text-rendering="geometricPrecision" x="1220" y="833.7" fill="#000" stroke="#000" stroke-width="0.1" font-size="9.17" text-anchor="start">30 Jun 08:00</text>
<rect x="1285" y="822" width="1" height="3" fill="#000"/>
<text text-rendering="geometricPrecision" x="1284" y="833.7" fill="#000" stroke="#000" stroke-width="0.1" font-size="9.17" text-anchor="start">3 Jul 04:00</text>
<rect x="1349" y="822" width="1" height="3" fill="#000"/>
<text text-rendering="geometricPrecision" x="1348" y="833.7" fill="#000" stroke="#000" stroke-width="0.1" font-size="9.17" text-anchor="start">3 Jul 20:00</text>
</g>
<g>
<rect x="5" y="1" width="1" height="17" fill="#a0a0a0" shape-rendering="crispEdges"/>
<path shape-rendering="geometricPrecision" d="M15.6 0.6 h7.300000000000001 l3.5 3.5 v9.5 h-10.8 Z" fill="#fff" stroke="#808080" stroke-width="1"/>
<path shape-rendering="geometricPrecision" d="M22.9 0.6 v3.5 h3.5" fill="#e8e8e8" stroke="#808080" stroke-width=".8"/>
<rect x="17.3" y="2.3" width="2.6" height="1.3" fill="#999"/>
<path shape-rendering="geometricPrecision" d="M17.3 6.5 h6 M17.3 8.5 h4.5 M17.3 10.6 h2" stroke="#999" stroke-width="1" fill="none"/>
<path shape-rendering="geometricPrecision" d="M23.5 6.7 h3 v3.8 h3.8 v3 h-3.8 v3.8 h-3 v-3.8 h-3.8 v-3 h3.8 Z" fill="#18e030" stroke="#008000" stroke-width="1"/>
<path shape-rendering="geometricPrecision" d="M24.1 7.4 h1 v3.6 h-4 v1 h3 Z" fill="#90ff90" opacity=".8"/>
<g stroke="#000" stroke-width="1.05" fill="none" stroke-linecap="square">
<path shape-rendering="geometricPrecision" d="M37.2 1.2 v1.4 M34.8 3 h5 M35.8 4 l.6 1.4 M38.8 4 l-.6 1.4 M34.2 6.1 h6 M34.8 8.2 h5 M37.2 6.1 v6 M36.2 9.4 l-1.8 2 M38.3 9.4 l1.5 1.6"/>
<path shape-rendering="geometricPrecision" d="M45.2 1.5 l-3.8 1.1 M41.5 2.6 v6 q0 2.4 -1 3.4 M41.5 5.7 h4.2 M43.8 5.7 v6.4"/>
<path shape-rendering="geometricPrecision" d="M47.5 1.6 l.9 1 M47 4.9 h2 v6 l1.5 -1.4 M50.6 2.6 h7.2 M54.6 2.6 v8.6 q0 .9 -2.2 .5"/>
<path shape-rendering="geometricPrecision" d="M60.8 1.1 l1 1.5 M67.4 1.1 l-1.2 1.5 M59.6 3.4 h9 v4.5 h-9 Z M59.6 5.7 h9 M64.1 3.4 v8.8 M58.2 9.7 h11.8"/>
</g>
<defs><linearGradient id="gold" x1="0" y1="0" x2="1" y2="1"><stop offset="0" stop-color="#f8e060"/><stop offset=".5" stop-color="#e8b820"/><stop offset="1" stop-color="#b87818"/></linearGradient></defs>
<path shape-rendering="geometricPrecision" d="M87.4 1 L97.8 8.8 L89.2 15.7 L82.2 10.4 Q86.4 7.4 87.4 1 Z" fill="#b07414" stroke="#9a5c0c" stroke-width=".8"/>
<path shape-rendering="geometricPrecision" d="M87.6 1.6 L96.6 8.2 L88.6 14 L83 10.2 Q86.6 7.4 87.6 1.6 Z" fill="url(#gold)"/>
<path shape-rendering="geometricPrecision" d="M88.9 14.9 L97 8.9" stroke="#f0dc98" stroke-width=".7" fill="none"/>
<defs><linearGradient id="cld" x1="0" y1="0" x2="0" y2="1"><stop offset="0" stop-color="#ffffff"/><stop offset="1" stop-color="#b8c8e4"/></linearGradient></defs>
<path shape-rendering="geometricPrecision" d="M112.2 1.2 L116.6 0 L123.2 0.6 V9 H112.2 Z" fill="#1e8cf0"/>
<path shape-rendering="geometricPrecision" d="M112.2 1.2 L115.2 2.2 V9.5 H112.2 Z" fill="#0868d8"/>
<rect x="116.2" y="3.2" width="5.8" height="3" fill="#70c0ff"/><rect x="117.2" y="4.2" width="3.4" height=".9" fill="#fff"/>
<path shape-rendering="geometricPrecision" d="M112.6 15.6 Q110.2 15.4 110.4 13.2 Q110.6 11.2 112.8 11.2 Q113.2 8.8 115.6 9.2 Q117 7.6 119 8.4 Q120.8 8.2 121.4 10 Q123.6 9.4 124.6 11 Q126.4 11.4 126 13.6 Q125.8 15.6 123.6 15.6 Z" fill="url(#cld)" stroke="#4868a8" stroke-width="1.1"/>
<g fill="none" stroke-width="1.1"><path shape-rendering="geometricPrecision" d="M145.9 0.7 A7.1 7.1 0 0 0 141 13" stroke="#5080e0" opacity=".75"/><path shape-rendering="geometricPrecision" d="M145.9 3.9 A3.9 3.9 0 0 0 143 10.5" stroke="#3868d8"/><path shape-rendering="geometricPrecision" d="M145.9 0.7 A7.1 7.1 0 0 1 146.6 14.9" stroke="#58a868" opacity=".8"/><path shape-rendering="geometricPrecision" d="M145.9 3.9 A3.9 3.9 0 0 1 147 11.5" stroke="#78b088" opacity=".8"/></g>
<path shape-rendering="geometricPrecision" d="M146.5 8 A7.1 7.1 0 0 1 146.6 14.9 Z" fill="#a8d0b0" opacity=".5"/>
<circle cx="145.9" cy="7.8" r="1.5" fill="#2858d0"/><path shape-rendering="geometricPrecision" d="M146.4 8 V15.6" stroke="#20a020" stroke-width="1.3"/>
<path shape-rendering="geometricPrecision" d="M166.2 7.4 H180.2 L176 12 L173.6 15.6 L168 10.5 Z" fill="#f8d848" stroke="#d0a020" stroke-width=".7"/>
<ellipse cx="173.2" cy="4.6" rx="7.8" ry="2.7" fill="#58a8e0" stroke="#2878b8" stroke-width=".7"/><path shape-rendering="geometricPrecision" d="M169.8 4 Q170.4 0 173.2 -0.4 Q176 0 176.6 4 Q173.2 5.4 169.8 4 Z" fill="#80c4f0"/>
<circle cx="177.4" cy="11.8" r="4" fill="#e02810"/><rect x="176" y="10.4" width="2.8" height="2.8" fill="#fff"/>
<g stroke="#000" stroke-width="1.05" fill="none" stroke-linecap="square">
<path shape-rendering="geometricPrecision" d="M191.6 1.1 l-.6 1.5 M187.8 2.9 h8.4 v8.6 h-8.4 Z M187.8 5.7 h8.4 M187.8 8.6 h8.4"/>
<path shape-rendering="geometricPrecision" d="M199.4 2.6 h3.8 M198.6 5.3 h5.4 M201.2 5.3 l-1.8 4.6 l4.2 -.7 M203 7.6 l1 2.6 M204.8 4.2 h4 v6.4 q0 1 -1.6 .6 M206.5 1.4 v2.8 q0 4.6 -2.6 7.4"/>
<path shape-rendering="geometricPrecision" d="M215.7 1.1 l.4 1.1 M210.6 3.4 h10.8 M214 4.6 l-2.6 2.6 M217.8 4.6 l2.6 2.6 M218.6 6.4 q-2 4 -7.2 5.4 M213.2 6.4 q2.2 4 7.6 5.4"/>
<path shape-rendering="geometricPrecision" d="M224.7 1.5 h7.4 v3.8 h-7.4 Z M224.7 3.4 h7.4 M225.4 5.8 l-2.6 2.9 M225.2 6.5 h7.3 v4.6 q0 1 -1.9 .6 M228 6.9 l-3.6 4.2 M230.6 6.9 l-4 4.8"/>
</g>
<rect x="241" y="0" width="1" height="19" fill="#a0a0a0" shape-rendering="crispEdges"/>
<rect x="242" y="0" width="1" height="19" fill="#fff" shape-rendering="crispEdges"/>
<rect x="245" y="1" width="3" height="1" fill="#a8a8a8" shape-rendering="crispEdges"/>
<rect x="245" y="3" width="3" height="1" fill="#a8a8a8" shape-rendering="crispEdges"/>
<rect x="245" y="5" width="3" height="1" fill="#a8a8a8" shape-rendering="crispEdges"/>
<rect x="245" y="7" width="3" height="1" fill="#a8a8a8" shape-rendering="crispEdges"/>
<rect x="245" y="9" width="3" height="1" fill="#a8a8a8" shape-rendering="crispEdges"/>
<rect x="245" y="11" width="3" height="1" fill="#a8a8a8" shape-rendering="crispEdges"/>
<rect x="245" y="13" width="3" height="1" fill="#a8a8a8" shape-rendering="crispEdges"/>
<rect x="245" y="15" width="3" height="1" fill="#a8a8a8" shape-rendering="crispEdges"/>
<rect x="245" y="17" width="3" height="1" fill="#a8a8a8" shape-rendering="crispEdges"/>
<g stroke="#555" stroke-width="1.1" fill="#555"><path shape-rendering="geometricPrecision" d="M259.5 3 V16 M256.9 13.6 H270.0" fill="none"/><path shape-rendering="geometricPrecision" d="M257.8 4.2 L259.5 1.9 L261.2 4.2 Z M268.9 11.9 L271.2 13.6 L268.9 15.3 Z" stroke="none"/></g>
<path shape-rendering="geometricPrecision" d="M265.4 3.2 V11.7 M265.4 4.5 H268 M263 10.4 H265.4" stroke="#008000" stroke-width="1.2" fill="none"/>
<rect x="279" y="0" width="25" height="18" fill="#f8f8f8" shape-rendering="crispEdges"/>
<rect x="279" y="0" width="1" height="18" fill="#a0a0a0" shape-rendering="crispEdges"/>
<rect x="279" y="18" width="26" height="1" fill="#ffffff" shape-rendering="crispEdges"/>
<rect x="304" y="0" width="1" height="18" fill="#ffffff" shape-rendering="crispEdges"/>
<g stroke="#555" stroke-width="1.1" fill="#555"><path shape-rendering="geometricPrecision" d="M287.4 3 V16 M284.79999999999995 13.6 H297.9" fill="none"/><path shape-rendering="geometricPrecision" d="M285.7 4.2 L287.4 1.9 L289.09999999999997 4.2 Z M296.79999999999995 11.9 L299.09999999999997 13.6 L296.79999999999995 15.3 Z" stroke="none"/></g>
<path shape-rendering="geometricPrecision" d="M293.5 0 V11.7" stroke="#00a000" stroke-width="1.1"/><rect x="291.4" y="2.3" width="4.2" height="7.4" fill="#40f040" stroke="#00a000" stroke-width="1"/>
<g stroke="#555" stroke-width="1.1" fill="#555"><path shape-rendering="geometricPrecision" d="M315.4 3 V16 M312.79999999999995 13.6 H325.9" fill="none"/><path shape-rendering="geometricPrecision" d="M313.7 4.2 L315.4 1.9 L317.09999999999997 4.2 Z M324.79999999999995 11.9 L327.09999999999997 13.6 L324.79999999999995 15.3 Z" stroke="none"/></g>
<path shape-rendering="geometricPrecision" d="M314 10.7 Q317.5 8.5 319 6 Q320.4 4.6 322 6 Q324 8.6 325.6 9.2" stroke="#30a030" stroke-width="1.1" fill="none"/>
<rect x="336" y="1" width="1" height="17" fill="#a0a0a0" shape-rendering="crispEdges"/>
<path shape-rendering="geometricPrecision" d="M355.0 9.8 L360.0 14.9" stroke="#a87808" stroke-width="3.4" stroke-linecap="butt"/><path shape-rendering="geometricPrecision" d="M355.0 9.8 L360.0 14.9" stroke="#f0d040" stroke-width="1.8"/>
<circle cx="351.1" cy="5.9" r="5.3" fill="#d8f0ff" stroke="#2878c8" stroke-width="1.3"/>
<path shape-rendering="geometricPrecision" d="M348.1 5.9 h6" stroke="#4090b0" stroke-width="1.8"/>
<path shape-rendering="geometricPrecision" d="M351.1 2.9 v6" stroke="#4090b0" stroke-width="1.8"/>
<path shape-rendering="geometricPrecision" d="M383.0 9.8 L388.0 14.9" stroke="#a87808" stroke-width="3.4" stroke-linecap="butt"/><path shape-rendering="geometricPrecision" d="M383.0 9.8 L388.0 14.9" stroke="#f0d040" stroke-width="1.8"/>
<circle cx="379.1" cy="5.9" r="5.3" fill="#d8f0ff" stroke="#2878c8" stroke-width="1.3"/>
<path shape-rendering="geometricPrecision" d="M376.1 5.9 h6" stroke="#4090b0" stroke-width="1.8"/>
<rect x="401.1" y="0" width="7.9" height="7.7" fill="#48a820"/><rect x="401.1" y="6.5" width="7.9" height="1.2" fill="#2c8810"/>
<path shape-rendering="geometricPrecision" d="M402.40000000000003 3.2 h5.6 v3.4 h-1 v-.9 h-3.6 v.9 h-1 Z" fill="#fff"/><rect x="403.3" y="4.2" width="3.8" height=".8" fill="#48a820" opacity=".5"/><rect x="402.5" y="1.2" width="1" height="1" fill="#fff" opacity=".8"/>
<rect x="409.1" y="0" width="7.9" height="7.7" fill="#2858e0"/><rect x="409.1" y="6.5" width="7.9" height="1.2" fill="#0830b8"/>
<path shape-rendering="geometricPrecision" d="M410.40000000000003 3.2 h5.6 v3.4 h-1 v-.9 h-3.6 v.9 h-1 Z" fill="#fff"/><rect x="411.3" y="4.2" width="3.8" height=".8" fill="#2858e0" opacity=".5"/><rect x="410.5" y="1.2" width="1" height="1" fill="#fff" opacity=".8"/>
<rect x="401.1" y="8" width="7.9" height="7.7" fill="#2858e0"/><rect x="401.1" y="14.5" width="7.9" height="1.2" fill="#0830b8"/>
<path shape-rendering="geometricPrecision" d="M402.40000000000003 11.2 h5.6 v3.4 h-1 v-.9 h-3.6 v.9 h-1 Z" fill="#fff"/><rect x="403.3" y="12.2" width="3.8" height=".8" fill="#2858e0" opacity=".5"/><rect x="402.5" y="9.2" width="1" height="1" fill="#fff" opacity=".8"/>
<rect x="409.1" y="8" width="7.9" height="7.7" fill="#48a820"/><rect x="409.1" y="14.5" width="7.9" height="1.2" fill="#2c8810"/>
<path shape-rendering="geometricPrecision" d="M410.40000000000003 11.2 h5.6 v3.4 h-1 v-.9 h-3.6 v.9 h-1 Z" fill="#fff"/><rect x="411.3" y="12.2" width="3.8" height=".8" fill="#48a820" opacity=".5"/><rect x="410.5" y="9.2" width="1" height="1" fill="#fff" opacity=".8"/>
<rect x="426" y="1" width="1" height="17" fill="#a0a0a0" shape-rendering="crispEdges"/>
<rect x="431" y="0" width="25" height="18" fill="#f8f8f8" shape-rendering="crispEdges"/>
<rect x="431" y="0" width="1" height="18" fill="#a0a0a0" shape-rendering="crispEdges"/>
<rect x="431" y="18" width="26" height="1" fill="#ffffff" shape-rendering="crispEdges"/>
<rect x="456" y="0" width="1" height="18" fill="#ffffff" shape-rendering="crispEdges"/>
<g stroke="#555" stroke-width="1.1" fill="#555"><path shape-rendering="geometricPrecision" d="M439.4 3 V16 M436.79999999999995 13.6 H449.9" fill="none"/><path shape-rendering="geometricPrecision" d="M437.7 4.2 L439.4 1.9 L441.09999999999997 4.2 Z M448.79999999999995 11.9 L451.09999999999997 13.6 L448.79999999999995 15.3 Z" stroke="none"/></g>
<path shape-rendering="geometricPrecision" d="M444.3 4.4 L447.9 7.4 L444.3 10.5 Z" fill="#60e060" stroke="#10a010" stroke-width="1"/>
<rect x="459" y="0" width="25" height="18" fill="#f8f8f8" shape-rendering="crispEdges"/>
<rect x="459" y="0" width="1" height="18" fill="#a0a0a0" shape-rendering="crispEdges"/>
<rect x="459" y="18" width="26" height="1" fill="#ffffff" shape-rendering="crispEdges"/>
<rect x="484" y="0" width="1" height="18" fill="#ffffff" shape-rendering="crispEdges"/>
<g stroke="#555" stroke-width="1.1" fill="#555"><path shape-rendering="geometricPrecision" d="M467.4 3 V16 M464.79999999999995 13.6 H477.9" fill="none"/><path shape-rendering="geometricPrecision" d="M465.7 4.2 L467.4 1.9 L469.09999999999997 4.2 Z M476.79999999999995 11.9 L479.09999999999997 13.6 L476.79999999999995 15.3 Z" stroke="none"/></g>
<path shape-rendering="geometricPrecision" d="M473.5 2.1 V11.7" stroke="#1070b0" stroke-width="1.2"/><path shape-rendering="geometricPrecision" d="M474.3 7.4 H478.8" stroke="#e05000" stroke-width="1.2"/><path shape-rendering="geometricPrecision" d="M474 7.4 L476.8 5.2 L476.2 7.4 L476.8 9.6 Z" fill="#e05000"/>
<rect x="488" y="1" width="1" height="17" fill="#a0a0a0" shape-rendering="crispEdges"/>
<path shape-rendering="geometricPrecision" d="M498.6 0.6 h7.300000000000001 l3.5 3.5 v9.3 h-10.8 Z" fill="#fff" stroke="#808080" stroke-width="1"/>
<path shape-rendering="geometricPrecision" d="M505.90000000000003 0.6 v3.5 h3.5" fill="#e8e8e8" stroke="#808080" stroke-width=".8"/>
<path shape-rendering="geometricPrecision" d="M502 3.5 q-1.4 3 0 6.5" stroke="#444" stroke-width="1" fill="none"/>
<path shape-rendering="geometricPrecision" d="M506.7 6.8 h3 v3.8 h3.8 v3 h-3.8 v3.8 h-3 v-3.8 h-3.8 v-3 h3.8 Z" fill="#18e030" stroke="#008000" stroke-width="1"/>
<path shape-rendering="geometricPrecision" d="M507.3 7.5 h1 v3.6 h-4 v1 h3 Z" fill="#90ff90" opacity=".8"/>
<path shape-rendering="geometricPrecision" d="M519.7 7.1 h5.6 l-2.8 3 Z" fill="#000"/>
<defs><linearGradient id="clk" x1="0" y1="0" x2="0" y2="1"><stop offset="0" stop-color="#38a0f8"/><stop offset="1" stop-color="#0850b0"/></linearGradient></defs>
<circle cx="544" cy="7.8" r="7.9" fill="url(#clk)"/><circle cx="544" cy="7.8" r="5.1" fill="#f4f4f4"/><rect x="542.6" y="-0.6" width="2.8" height="1.4" fill="#1060c0"/>
<g fill="#9aa0a8"><circle cx="548.10" cy="7.80" r=".45"/><circle cx="546.90" cy="10.70" r=".45"/><circle cx="544.00" cy="11.90" r=".45"/><circle cx="541.10" cy="10.70" r=".45"/><circle cx="539.90" cy="7.80" r=".45"/><circle cx="541.10" cy="4.90" r=".45"/><circle cx="544.00" cy="3.70" r=".45"/><circle cx="546.90" cy="4.90" r=".45"/></g>
<path shape-rendering="geometricPrecision" d="M543.4 4.4 V7.9 H546.4" stroke="#222" stroke-width="1.2" fill="none"/><path shape-rendering="geometricPrecision" d="M543.2 10.6 h1.6" stroke="#60a0f0" stroke-width=".8"/>
<path shape-rendering="geometricPrecision" d="M558.7 7.1 h5.6 l-2.8 3 Z" fill="#000"/>
<rect x="575.2" y="1.2" width="15.6" height="13.6" fill="#fff" stroke="#3878c8" stroke-width="1"/><rect x="575.2" y="1.2" width="15.6" height="2.2" fill="#4888d8"/><path shape-rendering="geometricPrecision" d="M575.6 9.2 h14.8" stroke="#3878c8" stroke-width=".9"/>
<path shape-rendering="geometricPrecision" d="M577.4 7.4 h1.6 l1.6 -1.3 h1 l1.2 -.8 h1 l1 .9 h1.4 l1.4 -1" stroke="#a02000" stroke-width="1.1" fill="none"/>
<path shape-rendering="geometricPrecision" d="M578 12.6 h1.4 l1.4 -1 l1.6 .9 h1 l2 -2.3 h.8 l2 2.6" stroke="#008828" stroke-width="1.1" fill="none"/>
<path shape-rendering="geometricPrecision" d="M597.7 7.1 h5.6 l-2.8 3 Z" fill="#000"/>
<rect x="609" y="0" width="1" height="19" fill="#a0a0a0" shape-rendering="crispEdges"/>
<rect x="610" y="0" width="1" height="19" fill="#fff" shape-rendering="crispEdges"/>
<rect x="613" y="1" width="3" height="1" fill="#a8a8a8" shape-rendering="crispEdges"/>
<rect x="613" y="3" width="3" height="1" fill="#a8a8a8" shape-rendering="crispEdges"/>
<rect x="613" y="5" width="3" height="1" fill="#a8a8a8" shape-rendering="crispEdges"/>
<rect x="613" y="7" width="3" height="1" fill="#a8a8a8" shape-rendering="crispEdges"/>
<rect x="613" y="9" width="3" height="1" fill="#a8a8a8" shape-rendering="crispEdges"/>
<rect x="613" y="11" width="3" height="1" fill="#a8a8a8" shape-rendering="crispEdges"/>
<rect x="613" y="13" width="3" height="1" fill="#a8a8a8" shape-rendering="crispEdges"/>
<rect x="613" y="15" width="3" height="1" fill="#a8a8a8" shape-rendering="crispEdges"/>
<rect x="613" y="17" width="3" height="1" fill="#a8a8a8" shape-rendering="crispEdges"/>
<rect x="619" y="0" width="25" height="18" fill="#f8f8f8" shape-rendering="crispEdges"/>
<rect x="619" y="0" width="1" height="18" fill="#a0a0a0" shape-rendering="crispEdges"/>
<rect x="619" y="18" width="26" height="1" fill="#ffffff" shape-rendering="crispEdges"/>
<rect x="644" y="0" width="1" height="18" fill="#ffffff" shape-rendering="crispEdges"/>
<path shape-rendering="geometricPrecision" d="M627.1 0.9 V12.2 L630 9.8 L632.2 14.7 L634 13.8 L631.8 9 L635.2 8.5 Z" fill="#444"/>
<path shape-rendering="geometricPrecision" d="M652.1 8.5 H658.6 M660.4 8.5 H666.9 M659.5 0.9 V7.6 M659.5 9.4 V16" stroke="#444" stroke-width="1.1" fill="none"/>
<rect x="676" y="1" width="1" height="17" fill="#a0a0a0" shape-rendering="crispEdges"/>
<g stroke="#444" stroke-width="1.25" fill="none"><path shape-rendering="geometricPrecision" d="M693.4 2 V14.9"/><path shape-rendering="geometricPrecision" d="M716 8.5 H728"/><path shape-rendering="geometricPrecision" d="M743.8 14.9 L756.2 2.8"/></g>
<g stroke="#555" stroke-width=".9" fill="none"><path shape-rendering="geometricPrecision" d="M770.2 9.8 L778.2 2.2 M771.1 13.3 L783 1.8 M775.1 14.6 L784 6.6 M772.4 6.9 l1.5 5.2 M775 4.6 l1.6 5.2 M777.8 2.4 l1.5 5.2 M781.5 0 l.6 4.4"/></g>
<text text-rendering="geometricPrecision" x="780.7" y="16.9" font-size="6.6" font-weight="bold" fill="#444">E</text>
<path shape-rendering="geometricPrecision" d="M799 1.4 H812.3" stroke="#555" stroke-width="1" stroke-dasharray="1 1" fill="none"/>
<path shape-rendering="geometricPrecision" d="M799 4.4 H812.3" stroke="#555" stroke-width="1" stroke-dasharray="1 1" fill="none"/>
<path shape-rendering="geometricPrecision" d="M799 8.6 H812.3" stroke="#555" stroke-width="1" stroke-dasharray="1 1" fill="none"/>
<path shape-rendering="geometricPrecision" d="M799 12.4 H807" stroke="#555" stroke-width="1" stroke-dasharray="1 1" fill="none"/>
<text text-rendering="geometricPrecision" x="808.8" y="16.9" font-size="6.6" font-weight="bold" fill="#444">F</text>
<text text-rendering="geometricPrecision" x="829.3" y="12.9" font-size="12.4" fill="#555" stroke="#555" stroke-width=".35">A</text>
<rect x="856.6" y="2.2" width="11" height="12.2" fill="none" stroke="#555" stroke-width="1" stroke-dasharray="1 1"/>
<path shape-rendering="geometricPrecision" d="M858 5.5 H866 M862 5.5 V13" stroke="#555" stroke-width="1.5" fill="none"/>
<path shape-rendering="geometricPrecision" d="M886.8 1.8 L890.2 4.6 L886.8 6.6 L883.4 4.6 Z M893.4 8.8 L896.8 11.2 L893.4 14.6 L890 11.2 Z" fill="#444"/><path shape-rendering="geometricPrecision" d="M885.6 9.6 L887.6 11.6 L891.6 6.6" stroke="#444" stroke-width="1.3" fill="none"/>
<path shape-rendering="geometricPrecision" d="M903.8 7 h5.6 l-2.8 3 Z" fill="#000"/>
<rect x="915" y="0" width="1" height="19" fill="#a0a0a0" shape-rendering="crispEdges"/>
<rect x="916" y="0" width="1" height="19" fill="#fff" shape-rendering="crispEdges"/>
<rect x="919" y="1" width="3" height="1" fill="#a8a8a8" shape-rendering="crispEdges"/>
<rect x="919" y="3" width="3" height="1" fill="#a8a8a8" shape-rendering="crispEdges"/>
<rect x="919" y="5" width="3" height="1" fill="#a8a8a8" shape-rendering="crispEdges"/>
<rect x="919" y="7" width="3" height="1" fill="#a8a8a8" shape-rendering="crispEdges"/>
<rect x="919" y="9" width="3" height="1" fill="#a8a8a8" shape-rendering="crispEdges"/>
<rect x="919" y="11" width="3" height="1" fill="#a8a8a8" shape-rendering="crispEdges"/>
<rect x="919" y="13" width="3" height="1" fill="#a8a8a8" shape-rendering="crispEdges"/>
<rect x="919" y="15" width="3" height="1" fill="#a8a8a8" shape-rendering="crispEdges"/>
<rect x="919" y="17" width="3" height="1" fill="#a8a8a8" shape-rendering="crispEdges"/>
<rect x="1065" y="0" width="25" height="18" fill="#f8f8f8" shape-rendering="crispEdges"/>
<rect x="1065" y="0" width="1" height="18" fill="#a0a0a0" shape-rendering="crispEdges"/>
<rect x="1065" y="18" width="26" height="1" fill="#ffffff" shape-rendering="crispEdges"/>
<rect x="1090" y="0" width="1" height="18" fill="#ffffff" shape-rendering="crispEdges"/>
<text text-rendering="geometricPrecision" x="930.5" y="11.7" font-size="9.17" fill="#444" textLength="12.9" lengthAdjust="spacingAndGlyphs">M1</text>
<text text-rendering="geometricPrecision" x="958.5" y="11.7" font-size="9.17" fill="#444" textLength="12.7" lengthAdjust="spacingAndGlyphs">M5</text>
<text text-rendering="geometricPrecision" x="984.4" y="11.7" font-size="9.17" fill="#444" textLength="18.0" lengthAdjust="spacingAndGlyphs">M15</text>
<text text-rendering="geometricPrecision" x="1012.4" y="11.7" font-size="9.17" fill="#444" textLength="17.8" lengthAdjust="spacingAndGlyphs">M30</text>
<text text-rendering="geometricPrecision" x="1043.6" y="11.7" font-size="9.17" fill="#444" textLength="11.8" lengthAdjust="spacingAndGlyphs">H1</text>
<text text-rendering="geometricPrecision" x="1070.5" y="11.7" font-size="9.17" fill="#444" textLength="12.3" lengthAdjust="spacingAndGlyphs">H4</text>
<text text-rendering="geometricPrecision" x="1099.8" y="11.7" font-size="9.17" fill="#444" textLength="11.3" lengthAdjust="spacingAndGlyphs">D1</text>
<text text-rendering="geometricPrecision" x="1126.7" y="11.7" font-size="9.17" fill="#444" textLength="14.7" lengthAdjust="spacingAndGlyphs">W1</text>
<text text-rendering="geometricPrecision" x="1153.7" y="11.7" font-size="9.17" fill="#444" textLength="14.6" lengthAdjust="spacingAndGlyphs">MN</text>
<rect x="1176" y="0" width="1" height="19" fill="#a0a0a0" shape-rendering="crispEdges"/>
<path shape-rendering="geometricPrecision" d="M1643.4 9 L1639.2 13" stroke="#2860d0" stroke-width="2.6" stroke-linecap="round"/><circle cx="1646.6" cy="5.3" r="4" fill="#f4f4ff" stroke="#2860d0" stroke-width="1.2"/>
<path shape-rendering="geometricPrecision" d="M1666.4 16.6 L1666.8 14.6 Q1662.8 13.4 1663 10.2 Q1663.4 6 1668 5.8 Q1673 6 1673.2 10.4 Q1673 14.6 1668.4 14.8 Z" fill="#e4e4ee" stroke="#a0a0a0" stroke-width=".9"/>
<defs><linearGradient id="bdg" x1="0" y1="0" x2="0" y2="1"><stop offset="0" stop-color="#e85838"/><stop offset="1" stop-color="#d82008"/></linearGradient></defs>
<circle cx="1677.4" cy="5.5" r="8.3" fill="url(#bdg)"/><path shape-rendering="geometricPrecision" d="M1675.6 1.3 H1677.5 V9 H1679.2 V10.3 H1673.8 V9 H1675.6 V3.2 L1673.8 4.5 V3 Z" fill="#fff"/>
</g>
</svg>
</body></html>
